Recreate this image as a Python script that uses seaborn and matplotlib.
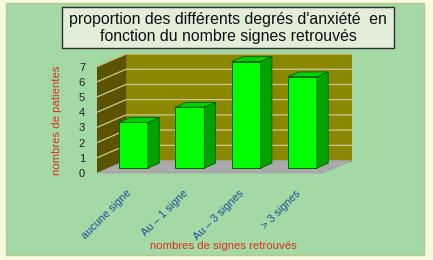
import matplotlib
matplotlib.use("Agg")
import matplotlib.pyplot as plt
from matplotlib.patches import Polygon, Rectangle
from matplotlib.transforms import ScaledTranslation
import seaborn as sns
import pandas as pd

# ---- data ----
categories = ["aucune signe", "Au – 1 signe", "Au – 3 signes", "> 3 signes"]
values = [3, 4, 7, 6]
y_tick_values = [0, 1, 2, 3, 4, 5, 6, 7]
title_text = "proportion des différents degrés d'anxiété  en\nfonction du nombre signes retrouvés"
xlabel_text = "nombres de signes retrouvés"
ylabel_text = "nombres de patientes"

plt.rcParams["font.family"] = ["Liberation Sans", "DejaVu Sans"]

W, H = 433, 260
fig = plt.figure(figsize=(W / 100, H / 100), dpi=100)
fig.patch.set_facecolor("#F6FADF")

# background green panel
fig.add_artist(Rectangle((6 / W, 1 - 255 / H), (424 - 6) / W, (255 - 3) / H,
                         transform=fig.transFigure, facecolor="#A3D9A5",
                         edgecolor="#B8C890", linewidth=1.0, zorder=0))

# title box
fig.add_artist(Rectangle((62 / W, 1 - 48 / H), (394 - 62) / W, (48 - 7) / H,
                         transform=fig.transFigure, facecolor="#E2EEDA",
                         edgecolor="#303030", linewidth=1.0, zorder=1))
fig.text(228 / W, 1 - 28 / H, title_text, ha="center", va="center",
         fontsize=11.4, color="#111111", linespacing=1.2, zorder=2)

ax = fig.add_axes([97 / W, 1 - 175 / H, 255 / W, 125 / H])
ax.set_facecolor("none")

df = pd.DataFrame({"cat": categories, "val": values})
sns.barplot(data=df, x="cat", y="val", ax=ax, color="#00FF00", width=0.515,
            edgecolor="#006400", linewidth=0.7, saturation=1, zorder=3)

ax.set_xlim(-0.648, 3.88)
ax.set_ylim(-0.46, 7.76)

# pseudo 3D geometry
Dx, Dy = 0.515, 0.822   # full depth vector in data units
t_bar = 0.4             # bar front plane depth
xL, xR = -0.442, 3.57
vmax = max(y_tick_values)


def P(x, v, t):
    return (x + (t - t_bar) * Dx, v + (t - t_bar) * Dy)


side = Polygon([P(xL, 0, 0), P(xL, vmax, 0), P(xL, vmax, 1), P(xL, 0, 1)],
               closed=True, facecolor="#5C5300", edgecolor="#4A4400", lw=0.5, zorder=0.5)
back = Polygon([P(xL, 0, 1), P(xL, vmax, 1), P(xR, vmax, 1), P(xR, 0, 1)],
               closed=True, facecolor="#8A8800", edgecolor="#7A7800", lw=0.5, zorder=0.5)
floor = Polygon([P(xL, 0, 0), P(xR, 0, 0), P(xR, 0, 1), P(xL, 0, 1)],
                closed=True, facecolor="#A9A9A9", edgecolor="#A0A0A0", lw=0.5, zorder=0.6)
for p in (side, back, floor):
    ax.add_patch(p)

for v in y_tick_values[1:]:
    a, b, c = P(xL, v, 0), P(xL, v, 1), P(xR, v, 1)
    ax.plot([a[0], b[0], c[0]], [a[1], b[1], c[1]], color="#CFC890", lw=0.9, zorder=0.8)

# side and top faces of the bars
bx, by = t_bar * Dx * 0.97, t_bar * Dy * 0.97
for patch in list(ax.patches):
    if patch in (side, back, floor):
        continue
    x0, w, h = patch.get_x(), patch.get_width(), patch.get_height()
    ax.add_patch(Polygon([(x0 + w, 0), (x0 + w, h), (x0 + w + bx, h + by), (x0 + w + bx, by)],
                         closed=True, facecolor="#00A400", edgecolor="#006000", lw=0.6, zorder=3))
    ax.add_patch(Polygon([(x0, h), (x0 + w, h), (x0 + w + bx, h + by), (x0 + bx, h + by)],
                         closed=True, facecolor="#00D200", edgecolor="#006000", lw=0.6, zorder=3))

for s in ax.spines.values():
    s.set_visible(False)

ax.set_yticks([v - t_bar * Dy for v in y_tick_values])
ax.set_yticklabels([str(v) for v in y_tick_values], fontsize=8, color="#222222")
ax.set_xticks(range(len(categories)))
ax.set_xticklabels(categories, rotation=45, ha="right", rotation_mode="anchor",
                   fontsize=7.8, color="#1F4F9A")
ax.tick_params(axis="y", length=0, pad=8.6)
ax.tick_params(axis="x", length=0, pad=9.4)
shift = ScaledTranslation(-7 / 100, 0, fig.dpi_scale_trans)
for lab in ax.get_xticklabels():
    lab.set_transform(lab.get_transform() + shift)

ax.set_xlabel(xlabel_text, fontsize=8.2, color="#E0301E")
ax.xaxis.set_label_coords((223 - 97) / 255, -(241 - 175) / 125)
ax.set_ylabel(ylabel_text, fontsize=8.2, color="#E0301E")
ax.yaxis.set_label_coords((62 - 97) / 255, (175 - 120) / 125)

fig.savefig("out.png", dpi=100, facecolor=fig.get_facecolor())
